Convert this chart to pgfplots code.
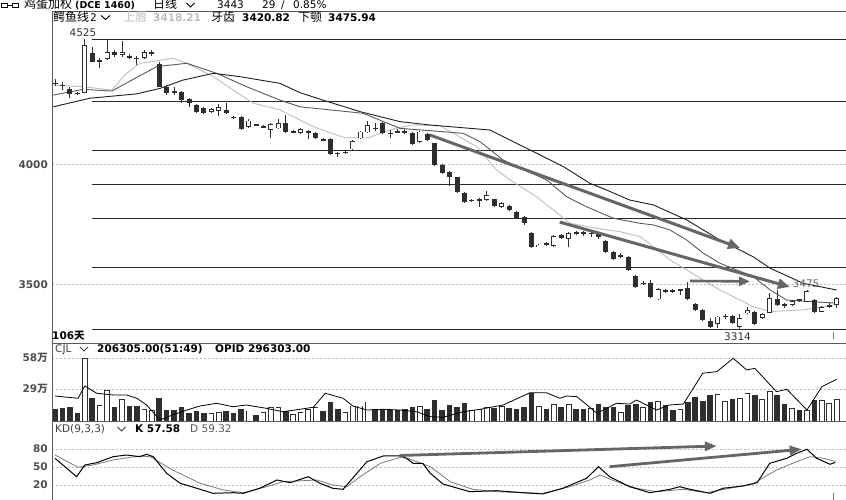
\documentclass[border=0pt]{standalone}
\usepackage{fontspec}
\setmainfont{DejaVu Sans}
\newfontfamily\cjk{Noto Sans CJK SC}
\usepackage{pgfplots}
\pgfplotsset{compat=1.18}
\usepackage{pgfplotstable}
\usetikzlibrary{arrows.meta}

\definecolor{cndl}{HTML}{2E2E2E}
\definecolor{lips}{HTML}{BEBEBE}
\definecolor{teeth}{HTML}{5A5A5A}
\definecolor{jaw}{HTML}{1E1E1E}
\definecolor{fib}{HTML}{2A2A2A}
\definecolor{arrowc}{HTML}{666666}
\definecolor{gridc}{HTML}{BBBBBB}
\definecolor{lab}{HTML}{4E4E4E}
\definecolor{frame}{HTML}{5A5A5A}
\definecolor{dline}{HTML}{7A7A7A}

\newcommand\lf{\fontsize{10.5}{12}\selectfont}
\newcommand\cf{\cjk\fontsize{12}{14}\selectfont}

\pgfplotstableread{
x o h l c v vu
1 4342 4357 4328 4340 10.6 0
2 4333 4345 4312 4332 11.2 0
3 4315 4323 4278 4296 12.7 0
4 4299 4305 4292 4298 6.5 0
5 4301 4525 4298 4500 58.0 1
6 4466 4490 4428 4431 21.1 0
7 4436 4445 4403 4435 14.3 1
8 4441 4521 4438 4472 28.3 1
9 4472 4480 4452 4459 12.2 0
10 4459 4517 4451 4472 19.9 1
11 4452 4462 4440 4451 13.4 0
12 4446 4455 4417 4445 13.4 0
13 4445 4478 4440 4470 10.6 1
14 4468 4478 4455 4467 9.6 1
15 4420 4428 4323 4326 20.6 0
16 4326 4333 4290 4298 9.6 0
17 4306 4323 4290 4305 9.6 0
18 4305 4310 4257 4270 12.2 0
19 4273 4280 4242 4259 7.1 0
20 4250 4255 4218 4222 9.0 0
21 4236 4240 4212 4217 7.1 0
22 4222 4238 4218 4233 7.1 1
23 4224 4254 4205 4240 8.0 1
24 4229 4260 4212 4215 8.7 0
25 4199 4205 4192 4198 7.1 0
26 4198 4202 4145 4149 10.6 0
27 4159 4190 4155 4184 9.0 1
28 4167 4172 4160 4166 5.0 0
29 4160 4168 4153 4159 8.0 1
30 4145 4175 4110 4169 12.7 1
31 4152 4190 4148 4173 12.7 1
32 4173 4208 4132 4135 9.0 0
33 4139 4145 4132 4138 5.6 1
34 4134 4155 4130 4148 8.0 1
35 4139 4145 4106 4138 10.3 1
36 4134 4138 4106 4110 12.2 1
37 4104 4110 4098 4103 9.0 0
38 4106 4110 4041 4045 16.8 0
39 4049 4054 4031 4048 10.6 0
40 4052 4060 4045 4053 7.5 1
41 4064 4104 4060 4100 13.7 1
42 4110 4142 4106 4138 13.7 1
43 4135 4184 4132 4166 17.4 1
44 4153 4176 4142 4152 10.3 0
45 4173 4178 4128 4131 10.6 0
46 4132 4145 4110 4131 9.6 0
47 4139 4150 4133 4138 9.6 0
48 4139 4150 4128 4138 10.6 0
49 4131 4135 4083 4087 12.2 0
50 4096 4142 4092 4138 13.4 1
51 4128 4132 4100 4103 10.6 0
52 4089 4092 3995 3999 19.0 0
53 3999 4003 3960 3964 9.6 0
54 3971 3975 3911 3947 14.3 0
55 3947 3950 3883 3887 12.2 0
56 3883 3887 3840 3845 15.9 0
57 3851 3858 3843 3850 9.6 1
58 3853 3860 3822 3852 10.6 1
59 3852 3890 3850 3873 12.2 1
60 3855 3858 3824 3827 11.2 0
61 3822 3843 3818 3839 13.4 1
62 3827 3830 3808 3811 11.2 0
63 3804 3807 3773 3776 10.3 0
64 3783 3786 3750 3755 12.2 0
65 3716 3718 3652 3655 25.8 0
66 3657 3670 3654 3666 13.4 1
67 3669 3675 3662 3668 10.6 0
68 3662 3707 3656 3703 15.2 1
69 3708 3712 3688 3692 12.2 0
70 3690 3717 3655 3713 15.2 1
71 3716 3722 3708 3715 10.6 0
72 3717 3722 3700 3716 10.6 0
73 3714 3720 3698 3713 11.2 1
74 3716 3720 3690 3699 15.2 0
75 3682 3686 3632 3636 12.7 0
76 3634 3638 3600 3605 12.2 0
77 3619 3630 3612 3618 7.5 1
78 3615 3618 3555 3560 14.3 0
79 3535 3538 3485 3490 15.2 0
80 3505 3515 3498 3504 12.2 1
81 3504 3520 3442 3446 17.4 0
82 3437 3483 3433 3479 18.0 1
83 3474 3482 3465 3473 14.3 0
84 3474 3482 3465 3473 9.6 0
85 3476 3482 3455 3479 10.3 1
86 3483 3511 3433 3437 17.4 0
87 3418 3421 3390 3393 22.1 0
88 3393 3396 3348 3351 18.3 0
89 3348 3360 3318 3323 23.7 0
90 3334 3369 3316 3365 24.3 1
91 3366 3375 3355 3365 18.3 1
92 3367 3370 3336 3340 19.9 0
93 3323 3375 3314 3358 20.6 1
94 3379 3405 3375 3393 25.3 1
95 3386 3390 3330 3334 23.7 0
96 3358 3379 3355 3375 19.6 1
97 3381 3462 3378 3441 27.4 1
98 3437 3475 3410 3414 23.7 0
99 3415 3420 3402 3414 15.2 0
100 3414 3435 3410 3431 11.2 1
101 3435 3440 3428 3434 9.6 0
102 3427 3477 3424 3473 9.6 1
103 3434 3438 3382 3386 19.0 0
104 3386 3410 3383 3406 19.0 1
105 3410 3420 3400 3409 15.9 1
106 3414 3447 3400 3443 19.6 1
}\candles

\pgfplotsset{panel/.style={
  scale only axis, width=794pt, anchor=south west,
  xmin=0.597, xmax=107.246,
  axis line style={draw=none}, tick style={draw=none},
  xtick=\empty, ymajorgrids,
  major grid style={gridc, dash pattern=on 2pt off 2pt, line width=0.6pt},
  yticklabel style={font=\bfseries\lf, text=lab, inner sep=0pt, xshift=-4pt},
  clip=true}}

\begin{document}
\begin{tikzpicture}[x=1pt,y=1pt]
\useasboundingbox (0,0) rectangle (846,500);
\fill[white] (0,0) rectangle (846,500);

% ===== main price panel =====
\begin{axis}[panel, at={(52pt,157pt)}, height=332pt,
  ymin=3254.6, ymax=4642.6, ytick={3500,4000}, yticklabels={3500,4000}]
% fibonacci levels
\addplot[fib, line width=1.1pt, forget plot] coordinates {(5.95,4525) (108,4525)};
\addplot[fib, line width=1.1pt, forget plot] coordinates {(5.95,4263) (108,4263)};
\addplot[fib, line width=1.1pt, forget plot] coordinates {(5.95,4061) (108,4061)};
\addplot[fib, line width=1.1pt, forget plot] coordinates {(5.95,3918) (108,3918)};
\addplot[fib, line width=1.1pt, forget plot] coordinates {(5.95,3774) (108,3774)};
\addplot[fib, line width=1.1pt, forget plot] coordinates {(5.95,3572) (108,3572)};
\addplot[fib, line width=1.1pt, forget plot] coordinates {(5.95,3311) (108,3311)};
% alligator lines
\addplot[lips, line width=0.9pt, forget plot] coordinates {
(0.77,4333) (4.80,4326) (8.62,4312) (10.63,4382) (12.42,4424) (16.89,4445) (18.69,4424)
(22.26,4368) (24.95,4312) (27.64,4257) (31.22,4229) (33.91,4187) (35.65,4159) (40,4112)
(43,4112) (46.5,4150) (49,4166) (52.7,4163) (54.96,4124) (57.64,4075) (60.33,3978)
(62.12,3936) (65.70,3866) (67.93,3811) (70.17,3755) (73.76,3734) (76.89,3720) (79.58,3699)
(81.40,3657) (83.61,3602) (85.85,3560) (90.32,3476) (94.79,3406) (97.07,3386) (101.51,3393)
(105.54,3413)};
\addplot[teeth, line width=0.9pt, forget plot] coordinates {
(0.77,4291) (4.80,4315) (8.62,4308) (14.66,4410) (18.69,4424) (22.72,4382) (26.75,4326)
(31.22,4270) (33.91,4242) (42.37,4215) (47.34,4152) (53.12,4138) (55.84,4131) (58.09,4096)
(61.18,4020) (62.12,4006) (67.05,3936) (69.73,3866) (72.42,3824) (75.99,3776) (79.58,3755)
(81.40,3748) (83.61,3727) (85.85,3685) (88.08,3630) (90.32,3588) (94.79,3532) (97.07,3476)
(99.28,3434) (106.0,3421)};
\addplot[jaw, line width=0.9pt, forget plot] coordinates {
(0.77,4242) (5.70,4278) (11.97,4296) (15.10,4319) (18.23,4354) (22.26,4382) (25.85,4368)
(31.22,4340) (33.91,4301) (36.99,4270) (41.97,4222) (47.34,4180) (51.37,4166) (59.43,4145)
(63.02,4089) (65.70,4048) (69.28,3992) (72.86,3922) (75.10,3894) (78.22,3852) (81.36,3832)
(85.85,3769) (90.32,3685) (94.79,3615) (97.07,3567) (101.51,3504) (106.0,3476)};
% candles: wicks
\addplot[draw=none, mark=none, forget plot,
  error bars/.cd, y dir=both, y explicit, error mark=none,
  error bar style={line width=0.9pt, cndl}]
  table[x=x, y expr={(\thisrow{h}+\thisrow{l})/2}, y error expr={(\thisrow{h}-\thisrow{l})/2}] {\candles};
% candles: bodies
\addplot[draw=none, mark=none, forget plot,
  error bars/.cd, y dir=both, y explicit, error mark=none,
  error bar style={line width=5pt, cndl}]
  table[x=x, y expr={(\thisrow{o}+\thisrow{c})/2}, y error expr={max(abs(\thisrow{c}-\thisrow{o})/2,2.2)}] {\candles};
% candles: hollow interiors of rising candles
\addplot[draw=none, mark=none, forget plot,
  error bars/.cd, y dir=both, y explicit, error mark=none,
  error bar style={line width=3.4pt, white}]
  table[x=x, y expr={(\thisrow{o}+\thisrow{c})/2}, y error expr={(\thisrow{c}>\thisrow{o}) ? max(abs(\thisrow{c}-\thisrow{o})/2-3.3,0) : 0}] {\candles};
% annotation arrows
\addplot[arrowc, line width=3pt, -{Triangle[length=12pt,width=10pt]}, forget plot] coordinates {(51.37,4124) (93.0,3652)};
\addplot[arrowc, line width=3pt, -{Triangle[length=12pt,width=10pt]}, forget plot] coordinates {(68.8,3760) (99.7,3489)};
\addplot[arrowc, line width=2.6pt, -{Triangle[length=11pt,width=9pt]}, forget plot] coordinates {(86.3,3514) (94.35,3512)};
\end{axis}

% ===== volume panel =====
\begin{axis}[panel, at={(52pt,78.5pt)}, height=78.5pt,
  ymin=-1.12, ymax=72.3, ytick={29,58}, yticklabels={{29{\cjk 万}},{58{\cjk 万}}}]
\addplot[draw=none, mark=none, forget plot,
  error bars/.cd, y dir=both, y explicit, error mark=none,
  error bar style={line width=5.6pt, cndl}]
  table[x=x, y expr={(\thisrow{v}-1.12)/2}, y error expr={(\thisrow{v}+1.12)/2}] {\candles};
\addplot[draw=none, mark=none, forget plot,
  error bars/.cd, y dir=both, y explicit, error mark=none,
  error bar style={line width=4pt, white}]
  table[x=x, y expr={(\thisrow{v}-1.12)/2}, y error expr={(\thisrow{vu}>0.5) ? max((\thisrow{v}+1.12)/2-0.75,0) : 0}] {\candles};
\addplot[black, line width=0.8pt, forget plot] coordinates {
(1,22.7) (4.1,20.6) (5.0,32.1) (6.6,25.3) (8.8,23.7) (10.6,23.7) (12.0,20.6) (13.3,14.3)
(15.1,0.3) (16.8,5.0) (18.7,9.6) (20.5,13.4) (22.7,15.9) (24.9,12.7) (26.7,14.3) (29.4,11.2)
(31.6,8.0) (33.9,10.3) (35.7,12.2) (37.3,25.3) (39.7,20.6) (41.0,13.4) (42.9,9.6) (45.1,10.3)
(47.3,9.6) (49.6,8.0) (51.4,3.4) (53.1,2.8) (55.8,8.0) (58.1,10.3) (61.2,14.3) (64.8,25.8)
(67.0,25.8) (68.8,20.6) (69.7,22.7) (71.1,22.1) (73.8,6.5) (76.4,15.9) (78.2,15.2) (79.1,19.0)
(81.8,9.6) (83.5,14.3) (85.4,15.2) (88.0,44.0) (89.9,45.5) (92.1,58.0) (93.9,47.1) (95.0,48.6)
(97.9,26.8) (99.3,29.0) (102.0,9.6) (104.0,31.4) (106.0,38.4)};
\end{axis}

% ===== KD panel =====
\begin{axis}[panel, at={(52pt,0pt)}, height=78.5pt,
  ymin=-4.55, ymax=125.2, ytick={20,50,80}, yticklabels={20,50,80}]
\addplot[dline, line width=0.8pt, forget plot] coordinates {
(1,69.8) (4.1,49.5) (6.1,53.3) (8.8,61.6) (12.4,68.2) (13.8,67.0) (16.8,45.0) (20.5,23.1)
(23.6,12.0) (26.3,7.5) (29.4,17.4) (31.6,25.7) (36.2,28.5) (38.3,20.2) (40.2,17.4) (42.0,34.0)
(44.7,56.1) (47.7,67.0) (49.6,58.8) (51.4,50.5) (54.1,25.7) (57.1,13.1) (60.3,9.2) (63.9,7.5)
(66.5,6.5) (70.2,17.4) (72.8,28.5) (74.2,36.8) (76.4,25.7) (79.1,14.8) (81.8,9.2) (85.4,13.1)
(88.5,7.5) (91.6,14.8) (94.7,21.9) (97.9,45.0) (100.6,58.8) (102.4,67.0) (104.2,64.4) (105.8,59.3)};
\addplot[black, line width=1pt, forget plot] coordinates {
(1,64.4) (3.9,34.0) (5.0,53.3) (6.6,57.1) (8.8,67.0) (10.6,69.8) (12.4,67.0) (13.3,71.0)
(14.2,67.0) (16.0,39.6) (17.8,23.1) (20.5,13.1) (22.2,6.5) (24.9,7.5) (26.3,6.5) (28.5,14.8)
(30.8,28.5) (32.6,24.0) (35.0,34.0) (36.6,23.1) (38.3,14.8) (39.7,13.1) (42.9,58.8) (45.1,68.2)
(47.3,68.2) (48.2,64.4) (49.1,56.1) (50.4,56.1) (51.4,39.6) (53.1,21.9) (56.7,9.2) (60.3,10.8)
(63.9,7.5) (66.5,5.4) (69.2,14.8) (72.4,31.3) (74.0,50.5) (75.5,34.0) (78.2,17.4) (80.9,7.5)
(83.6,13.1) (84.9,17.4) (86.3,13.1) (89.0,6.5) (90.7,14.8) (93.4,18.6) (95.3,24.0) (97.0,56.1)
(99.3,64.4) (100.6,72.6) (102.0,79.3) (103.3,64.4) (105.1,54.5) (105.8,57.6)};
\addplot[arrowc, line width=2.8pt, -{Triangle[length=12pt,width=9pt]}, forget plot] coordinates {(47.3,69) (89.9,84.7)};
\addplot[arrowc, line width=2.8pt, -{Triangle[length=12pt,width=9pt]}, forget plot] coordinates {(75.5,50.5) (101.3,79.3)};
\end{axis}

% ===== frame lines =====
\draw[frame, line width=0.9pt] (52,489) -- (52,0);
\draw[frame, line width=0.8pt] (52,489) -- (846,489);
\draw[frame, line width=0.8pt] (52,157) -- (846,157);
\draw[frame, line width=0.8pt] (52,78.5) -- (846,78.5);
\draw[dline, line width=0.6pt] (833.5,168) -- (833.5,161);
\draw[dline, line width=0.6pt] (833.5,7) -- (833.5,0);

% ===== header =====
\draw[black, line width=0.8pt] (1,492.5) rectangle (7,497) (12,492.5) rectangle (18,497);
\draw[black, line width=0.8pt] (7,494.75) -- (12,494.75);
\node[anchor=base west, inner sep=0pt, font=\cf] at (24,491) {鸡蛋加权};
\node[anchor=base west, inner sep=0pt, font=\bfseries\fontsize{9.5}{11}\selectfont] at (75,491) {(DCE 1460)};
\node[anchor=base west, inner sep=0pt, font=\cf] at (153,491) {日线};
\draw[black, line width=0.9pt] (186.5,497) -- (190.5,493) -- (194.5,497);
\node[anchor=base west, inner sep=0pt, font=\lf] at (217,491) {3443};
\node[anchor=base west, inner sep=0pt, font=\lf] at (262,491) {29};
\node[anchor=base west, inner sep=0pt, font=\lf] at (281,491) {/};
\node[anchor=base west, inner sep=0pt, font=\lf] at (293,491) {0.85\%};

% legend of price panel
\node[anchor=base west, inner sep=0pt, font=\cf] at (53,478.5) {鳄鱼线};
\node[anchor=base west, inner sep=0pt, font=\lf] at (90,478.5) {2};
\draw[black, line width=0.9pt] (101,484.5) -- (105.5,480.5) -- (110,484.5);
\node[anchor=base west, inner sep=0pt, font=\cf, text=lips] at (123,478.5) {上唇};
\node[anchor=base west, inner sep=0pt, font=\bfseries\lf, text=lips] at (153,478.5) {3418.21};
\node[anchor=base west, inner sep=0pt, font=\cf] at (211,478.5) {牙齿};
\node[anchor=base west, inner sep=0pt, font=\bfseries\lf] at (242,478.5) {3420.82};
\node[anchor=base west, inner sep=0pt, font=\cf] at (298,478.5) {下颚};
\node[anchor=base west, inner sep=0pt, font=\bfseries\lf] at (328,478.5) {3475.94};

% price annotations
\node[inner sep=0pt, font=\lf, text=black!80] at (83,467.5) {4525};
\node[inner sep=0pt, font=\lf, text=black!60] at (806,216) {3475};
\node[inner sep=0pt, font=\lf, text=black!80] at (737.5,163) {3314};
\node[anchor=base west, inner sep=0pt, font=\bfseries\lf] at (52,160.5) {106{\cjk 天}};

% volume legend
\node[anchor=base west, inner sep=0pt, font=\lf, text=black!75] at (55,147) {CJL};
\draw[black!75, line width=0.9pt] (80,153) -- (84,149) -- (88,153);
\node[anchor=base west, inner sep=0pt, font=\bfseries\lf] at (97,147) {206305.00(51:49)};
\node[anchor=base west, inner sep=0pt, font=\bfseries\lf] at (215,147) {OPID 296303.00};

% KD legend
\node[anchor=base west, inner sep=0pt, font=\lf, text=black!75] at (55,67) {KD(9,3,3)};
\draw[black!75, line width=0.9pt] (117.5,73) -- (121.5,69) -- (125.5,73);
\node[anchor=base west, inner sep=0pt, font=\bfseries\lf] at (135,67) {K 57.58};
\node[anchor=base west, inner sep=0pt, font=\lf, text=black!65] at (190,67) {D 59.32};
\end{tikzpicture}
\end{document}
